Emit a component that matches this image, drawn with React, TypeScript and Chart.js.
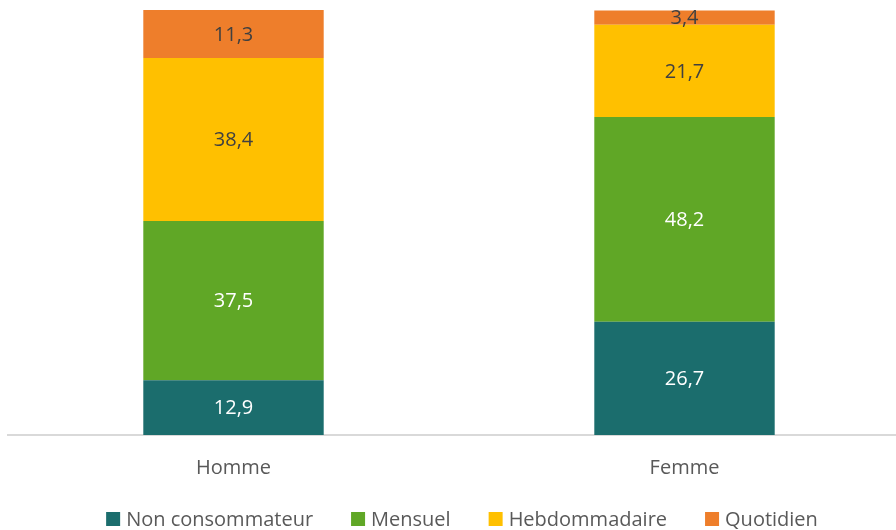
import React, { useEffect, useRef } from "react";
import { Chart, registerables } from "chart.js";

Chart.register(...registerables);

const categories = ["Homme", "Femme"];
const seriesNames = ["Non consommateur", "Mensuel", "Hebdommadaire", "Quotidien"];
const nonConsommateur = [12.9, 26.7];
const mensuel = [37.5, 48.2];
const hebdommadaire = [38.4, 21.7];
const quotidien = [11.3, 3.4];
const colors = ["#1b6d6d", "#60a726", "#ffc000", "#ee7e2b"];
const labelColors = ["#ffffff", "#ffffff", "#404040", "#404040"];

const FONT = "'Open Sans', sans-serif";

const labelPlugin = {
  id: "barLabels",
  afterDatasetsDraw(chart: any) {
    const ctx = chart.ctx;
    ctx.save();
    ctx.font = `20px ${FONT}`;
    ctx.textAlign = "center";
    ctx.textBaseline = "middle";
    chart.data.datasets.forEach((ds: any, i: number) => {
      const meta = chart.getDatasetMeta(i);
      meta.data.forEach((bar: any, j: number) => {
        const v = ds.data[j];
        const yc = (bar.y + bar.base) / 2;
        ctx.fillStyle = labelColors[i];
        ctx.fillText(String(v).replace(".", ","), bar.x, yc + 1);
      });
    });
    ctx.restore();
  },
};

const legendPlugin = {
  id: "customLegend",
  afterDraw(chart: any) {
    const ctx = chart.ctx;
    ctx.save();
    ctx.font = `20px ${FONT}`;
    ctx.textBaseline = "middle";
    ctx.textAlign = "left";
    const box = 14;
    const gapBoxText = 6;
    const gapItems = 38;
    const items = chart.data.datasets.map((ds: any) => ({
      text: ds.label,
      color: ds.backgroundColor,
      w: box + gapBoxText + ctx.measureText(ds.label).width,
    }));
    const total = items.reduce((s: number, it: any) => s + it.w, 0) + gapItems * (items.length - 1);
    let x = 462 - total / 2;
    const yc = 519;
    items.forEach((it: any) => {
      ctx.fillStyle = it.color;
      ctx.fillRect(x, yc - box / 2, box, box);
      ctx.fillStyle = "#595959";
      ctx.fillText(it.text, x + box + gapBoxText, yc + 1);
      x += it.w + gapItems;
    });
    ctx.restore();
  },
};

export default function App() {
  const ref = useRef<HTMLCanvasElement>(null);
  useEffect(() => {
    document.body.style.margin = "0";
    const data = [nonConsommateur, mensuel, hebdommadaire, quotidien];
    const chart = new Chart(ref.current!, {
      type: "bar",
      data: {
        labels: categories,
        datasets: seriesNames.map((n, i) => ({
          label: n,
          data: data[i],
          backgroundColor: colors[i],
          borderWidth: 0,
          barPercentage: 0.4,
          categoryPercentage: 1,
        })),
      },
      options: {
        animation: false,
        responsive: false,
        maintainAspectRatio: false,
        layout: { padding: { left: 8, right: 0, top: 10, bottom: 37 } },
        plugins: {
          legend: { display: false },
          tooltip: { enabled: false },
        },
        scales: {
          x: {
            stacked: true,
            grid: { display: false },
            border: { display: true, color: "#d9d9d9", width: 2 },
            ticks: { color: "#595959", font: { family: FONT, size: 20 }, padding: 13 },
          },
          y: {
            stacked: true,
            display: false,
            min: 0,
            max: 100.1,
          },
        },
      },
      plugins: [labelPlugin, legendPlugin],
    });
    return () => chart.destroy();
  }, []);
  return (
    <div style={{ width: 896, height: 530, overflow: "hidden", position: "relative" }}>
      <canvas ref={ref} width={910} height={530} style={{ display: "block" }} />
    </div>
  );
}
